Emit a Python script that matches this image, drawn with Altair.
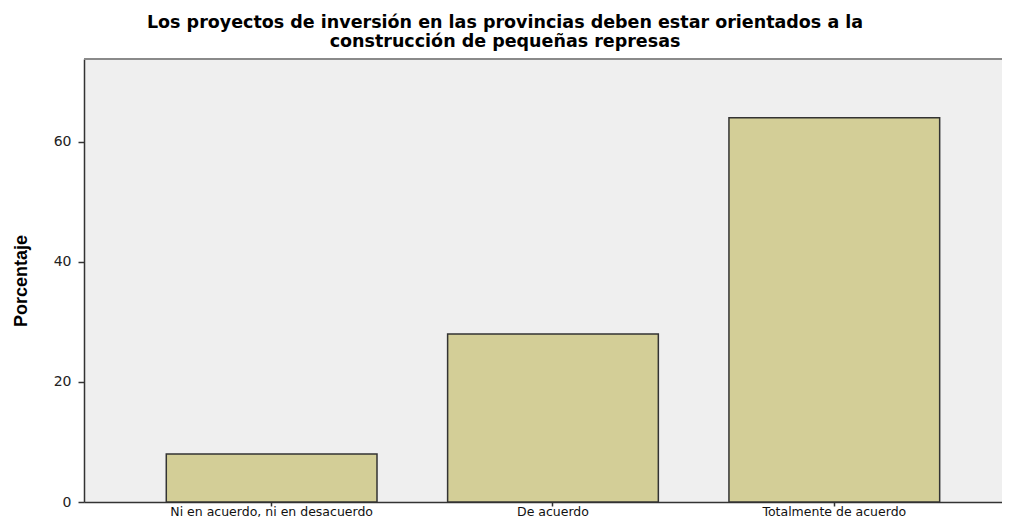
import altair as alt
import pandas as pd

categories = ["Ni en acuerdo, ni en desacuerdo", "De acuerdo", "Totalmente de acuerdo"]
values = [8, 28, 64]
title_lines = ["Los proyectos de inversión en las provincias deben estar orientados a la",
               "construcción de pequeñas represas"]
y_ticks = [0, 20, 40, 60]

df = pd.DataFrame({"cat": categories, "pct": values})

W, H = 918, 443

bars = alt.Chart(df).mark_bar(
    color="#D3CE97", stroke="#333333", strokeWidth=1.5
).encode(
    x=alt.X("cat:N", sort=categories, title=None,
            scale=alt.Scale(paddingInner=0.251, paddingOuter=0.257, align=0.569),
            axis=alt.Axis(labelAngle=0, labelFont="DejaVu Sans", labelFontSize=12.5,
                          labelColor="#111111", labelPadding=9, labelBaseline="alphabetic",
                          labelLimit=0, tickSize=4,
                          tickColor="#333333", domainColor="#333333", domainWidth=1.5,
                          tickWidth=1.5)),
    y=alt.Y("pct:Q", title="Porcentaje",
            scale=alt.Scale(domain=[0, 73.8], nice=False, zero=True),
            axis=alt.Axis(values=y_ticks, grid=False, labelFont="DejaVu Sans",
                          labelFontSize=14, labelColor="#222222", labelPadding=7,
                          tickSize=6, tickColor="#333333", tickWidth=1.5,
                          domainColor="#333333", domainWidth=1.5,
                          titleFont="Liberation Sans", titleFontSize=18,
                          titleFontWeight="bold", titleColor="#000000",
                          titleAngle=-90, titleX=-63, titleY=H / 2,
                          titleAlign="center", titleBaseline="middle")),
)

top_border = alt.Chart(df).mark_rule(color="#8A8A8A", strokeWidth=2).encode(
    x=alt.value(0), x2=alt.value(W), y=alt.value(0)
)

chart = alt.layer(bars, top_border).properties(
    width=W, height=H,
    title=alt.TitleParams(title_lines, font="DejaVu Sans", fontSize=17.5,
                          fontWeight="bold", color="#000000", anchor="middle",
                          dx=-38, lineHeight=19, offset=8),
    autosize=alt.AutoSizeParams(type="none"),
    padding={"left": 76, "top": 51, "right": 0, "bottom": 16},
).configure_view(
    fill="#EFEFEF", strokeWidth=0
)

chart.save("out.html", embed_options={"renderer": "svg", "actions": False})
